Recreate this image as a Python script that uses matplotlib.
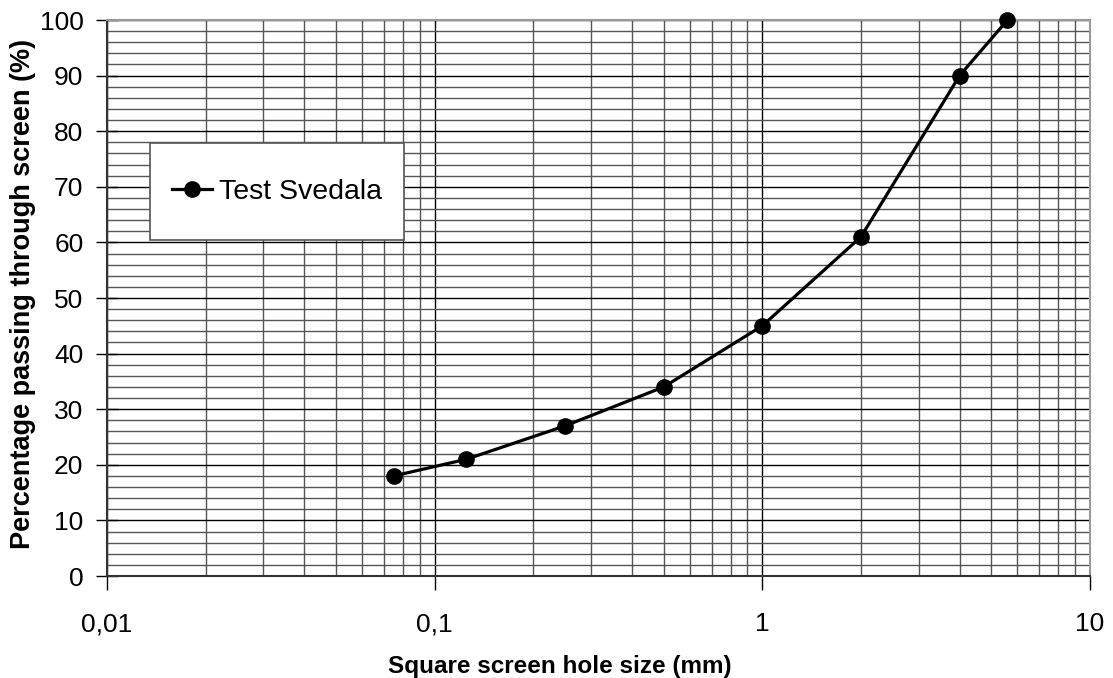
import numpy as np
import matplotlib
matplotlib.use("Agg")
from matplotlib import pyplot as plt
from matplotlib.patches import Rectangle
from matplotlib.ticker import FixedLocator, MultipleLocator, FuncFormatter

plt.rcParams['font.family'] = ['Liberation Sans', 'DejaVu Sans']

# screen sizes (mm) and percent passing
size_mm = [0.075, 0.125, 0.25, 0.5, 1, 2, 4, 5.6]
passing = [18, 21, 27, 34, 45, 61, 90, 100]
series_name = "Test Svedala"

fig = plt.figure(figsize=(11.13, 6.78), dpi=100)
ax = fig.add_axes([107/1113, 102/678, 983/1113, 556/678])

ax.set_xscale('log')
ax.set_xlim(0.01, 10)
ax.set_ylim(0, 100)

minors = [m * d for d in (0.01, 0.1, 1) for m in range(2, 10)]
ax.xaxis.set_major_locator(FixedLocator([0.01, 0.1, 1, 10]))
ax.xaxis.set_minor_locator(FixedLocator(minors))
ax.xaxis.set_major_formatter(FuncFormatter(lambda v, p: ('%g' % v).replace('.', ',')))
ax.yaxis.set_major_locator(MultipleLocator(10))
ax.yaxis.set_minor_locator(MultipleLocator(2))

ax.grid(which='major', color='black', linewidth=1.0)
ax.grid(which='minor', color='#555555', linewidth=1.0)
ax.set_axisbelow(True)

for s in ax.spines.values():
    s.set_color('#999999')
    s.set_linewidth(1.5)
ax.spines['bottom'].set_color('#333333')
ax.spines['left'].set_color('#333333')

ax.tick_params(axis='x', which='major', direction='out', length=10, width=1, pad=16, labelsize=19)
ax.tick_params(axis='x', which='minor', length=0)
ax.tick_params(axis='y', which='major', direction='inout', length=16, width=1, pad=9, labelsize=19)
ax.tick_params(axis='y', which='minor', length=0)

ax.plot(size_mm, passing, color='black', linewidth=2.3, marker='o', markersize=11,
        label=series_name, clip_on=False, zorder=5)

ax.set_xlabel("Square screen hole size (mm)", fontsize=17.5, fontweight='bold')
ax.set_ylabel("Percentage passing through screen (%)", fontsize=19.5, fontweight='bold')
ax.xaxis.set_label_coords(0.461, -0.142)
ax.yaxis.set_label_coords(-0.072, 0.507)

# legend box
ax.add_patch(Rectangle((0.044, 0.604), 0.258, 0.175, transform=ax.transAxes,
                       facecolor='white', edgecolor='#555555', linewidth=1.2, zorder=6))
leg = ax.legend(loc='center', bbox_to_anchor=(0.044, 0.604, 0.258, 0.175), bbox_transform=ax.transAxes,
                fontsize=20.5, frameon=False, handlelength=1.4, handletextpad=0.25,
                borderaxespad=0)
leg.set_zorder(7)

fig.savefig("out.png", dpi=100)
